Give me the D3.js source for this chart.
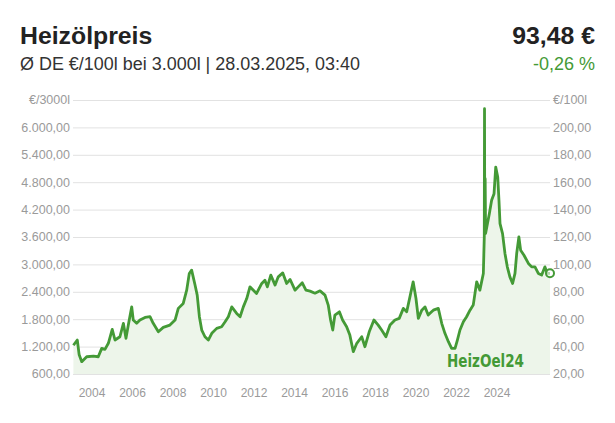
<!DOCTYPE html>
<html><head><meta charset="utf-8">
<script src="https://cdn.jsdelivr.net/npm/d3@7/dist/d3.min.js"></script>
<style>
html,body{margin:0;padding:0;background:#fff;}
svg{display:block;font-family:"Liberation Sans",Arial,sans-serif;}
</style></head>
<body>
<svg id="c" width="615" height="423"></svg>
<script>
// ---- data (€/100l) ----
const dates = ["2003-01-08","2003-03-15","2003-04-16","2003-05-30","2003-08-22","2003-12-14",
"2004-03-06","2004-05-04","2004-06-28","2004-08-25","2004-10-30","2004-12-16",
"2005-03-10","2005-05-08","2005-06-21","2005-07-31","2005-09-27","2005-10-23","2005-12-20",
"2006-02-14","2006-05-12","2006-08-04","2006-09-28","2006-12-24",
"2007-03-18","2007-07-09","2007-10-05","2007-11-29",
"2008-02-21","2008-04-20","2008-06-03","2008-07-13","2008-09-09","2008-10-16","2008-11-22",
"2009-01-01","2009-02-25","2009-04-23","2009-06-21","2009-09-13","2009-12-06",
"2010-02-03","2010-03-30","2010-05-27","2010-08-19","2010-10-16","2010-12-10",
"2011-02-06","2011-04-02","2011-05-30","2011-07-24","2011-10-20","2011-12-13",
"2012-01-23","2012-03-22","2012-06-03","2012-07-27","2012-10-12","2012-12-17",
"2013-02-14","2013-05-08","2013-07-02","2013-09-09","2013-11-10",
"2014-01-19","2014-04-13","2014-07-09","2014-10-01","2014-11-25",
"2015-01-04","2015-02-10","2015-03-18","2015-06-03","2015-07-27","2015-10-04","2015-11-28",
"2016-01-26","2016-03-25","2016-06-17","2016-08-11","2016-10-23",
"2017-01-11","2017-03-25","2017-05-22","2017-08-03","2017-10-12",
"2018-01-04","2018-03-18","2018-05-27","2018-07-23","2018-09-16","2018-11-10","2018-12-28",
"2019-02-06","2019-04-06","2019-05-30","2019-07-24","2019-09-20","2019-10-20",
"2020-01-12","2020-03-10","2020-05-04","2020-07-02","2020-08-26","2020-10-23","2020-12-02",
"2021-01-15","2021-03-14","2021-05-08","2021-07-05","2021-08-29","2021-10-27","2021-12-20",
"2022-02-17","2022-03-05","2022-03-09","2022-03-13","2022-03-20","2022-03-27",
"2022-05-30","2022-07-08","2022-08-18","2022-09-16","2022-10-20","2022-11-10","2022-11-28",
"2023-01-10","2023-02-20","2023-04-01","2023-05-15","2023-06-30","2023-08-10","2023-09-08",
"2023-10-15","2023-11-14",
"2024-01-10","2024-03-25","2024-05-20","2024-07-15","2024-09-10","2024-11-06",
"2025-01-01","2025-02-10","2025-03-28"];
const prices = [41,44.8,34,29,32.6,33,
32.6,38.7,38,42.4,52.6,44.8,
47.2,57,46,55.7,69,59.4,57,
59.4,61.3,61.8,57,50.8,
54,55.7,59.4,67.9,
71.5,81.2,93.4,95.8,85,77.6,61.8,
52.1,47.2,44.8,49.7,53.3,54.5,
58.1,61.8,69,64.2,61.8,69,
75.1,83.6,81.2,78.8,86.1,88.5,
83.6,92.2,84.9,90.9,93.8,86.1,
89,81.2,83.6,86.6,81.2,
80.5,79,80.7,77.6,70.3,
59.4,52.1,63,65.4,59.4,54.5,48.4,
36.3,42.4,47.2,39.9,50.8,
59.4,55.7,52.1,47.2,55.7,
59.4,60.6,67.9,65.4,76.3,87.3,75.1,
60.6,66.6,69,63,65.4,66.6,
67.9,57,49.7,43.6,38.7,38.7,44.8,
52.1,58.1,61.8,66.6,70.3,87.3,81.2,
93.4,120,213.6,125,162.6,122.5,
137,146.8,151.6,171,163.8,146.8,129.8,
122.5,108,98.2,90.9,86.1,93.4,108,
120,110.4,
106.7,100.7,98.2,98.2,93.4,92.2,
98.2,93.4,93.48];
const rightTicks = [20,40,60,80,100,120,140,160,180,200];
const leftFactor = 30; // €/3000l = 30 × €/100l
const xTickLabels = ["2004","2006","2008","2010","2012","2014","2016","2018","2020","2022","2024"];
const title = "Heizölpreis";
const subtitle = "Ø DE €/100l bei 3.000l | 28.03.2025, 03:40";
const priceLabel = "93,48 €";
const changeLabel = "-0,26 %";

// ---- drawing ----
const svg = d3.select("#c");
const green = "#449a36", fillGreen = "#edf5ea", grey = "#9a9a9a", grid = "#e2e2e2";
const L = 73, R = 550, T = 100, B = 374;
const parse = d3.timeParse("%Y-%m-%d");
const data = dates.map((d,i)=>({d:parse(d), v:prices[i]}));

const x = d3.scaleTime().domain([parse("2003-01-01"), parse("2025-03-28")]).range([L, R]);
const y = d3.scaleLinear().domain([20, 220]).range([B, T]);
const xLab = d3.scalePoint().domain(xTickLabels).range([92, 497]);
const fmt = d3.formatLocale({decimal:",", thousands:".", grouping:[3], currency:["","€"]}).format(",.2f");

// header
svg.append("text").attr("x",20).attr("y",44).attr("font-size",24.8).attr("font-weight","bold").attr("fill","#222").text(title);
svg.append("text").attr("x",595).attr("y",44).attr("text-anchor","end").attr("font-size",24.8).attr("font-weight","bold").attr("fill","#222").text(priceLabel);
svg.append("text").attr("x",20).attr("y",69.5).attr("font-size",17.5).attr("fill","#333")
  .attr("textLength",340).attr("lengthAdjust","spacingAndGlyphs").text(subtitle);
svg.append("text").attr("x",595).attr("y",69.5).attr("text-anchor","end").attr("font-size",18).attr("fill",green).text(changeLabel);

// gridlines
const gTicks = rightTicks.concat([220]);
svg.append("g").selectAll("line").data(gTicks).join("line")
  .attr("x1",L).attr("x2",R).attr("y1",d=>y(d)+0.5).attr("y2",d=>y(d)+0.5)
  .attr("stroke",grid).attr("stroke-width",1);

// left axis labels
svg.append("g").selectAll("text").data(gTicks).join("text")
  .attr("x",70).attr("y",d=>y(d)).attr("dy","0.35em").attr("text-anchor","end")
  .attr("font-size",12.5).attr("fill",grey)
  .text(d=> d===220 ? "€/3000l" : fmt(d*leftFactor));
// right axis labels
svg.append("g").selectAll("text").data(gTicks).join("text")
  .attr("x",553).attr("y",d=>y(d)).attr("dy","0.35em").attr("text-anchor","start")
  .attr("font-size",12.5).attr("fill",grey)
  .text(d=> d===220 ? "€/100l" : fmt(d));
// x labels
svg.append("g").selectAll("text").data(xTickLabels).join("text")
  .attr("x",d=>xLab(d)).attr("y",397).attr("text-anchor","middle")
  .attr("font-size",12).attr("fill",grey).text(d=>d);

// area
svg.append("path").datum(data)
  .attr("d", d3.area().x(d=>x(d.d)).y0(B).y1(d=>y(d.v)))
  .attr("fill",fillGreen);
// watermark
svg.append("text").attr("x",447).attr("y",367).attr("font-family","'DejaVu Sans Condensed','DejaVu Sans',sans-serif")
  .attr("font-weight","bold").attr("font-size",17).attr("fill",green)
  .attr("textLength",77).attr("lengthAdjust","spacingAndGlyphs").text("HeizOel24");
// line
svg.append("path").datum(data)
  .attr("d", d3.line().x(d=>x(d.d)).y(d=>y(d.v)))
  .attr("fill","none").attr("stroke",green).attr("stroke-width",2.8).attr("stroke-linejoin","round");
// end marker
const last = data[data.length-1];
svg.append("circle").attr("cx",x(last.d)).attr("cy",y(last.v)).attr("r",4)
  .attr("fill","#fff").attr("fill-opacity",0.6).attr("stroke",green).attr("stroke-width",2);
</script>
</body></html>
